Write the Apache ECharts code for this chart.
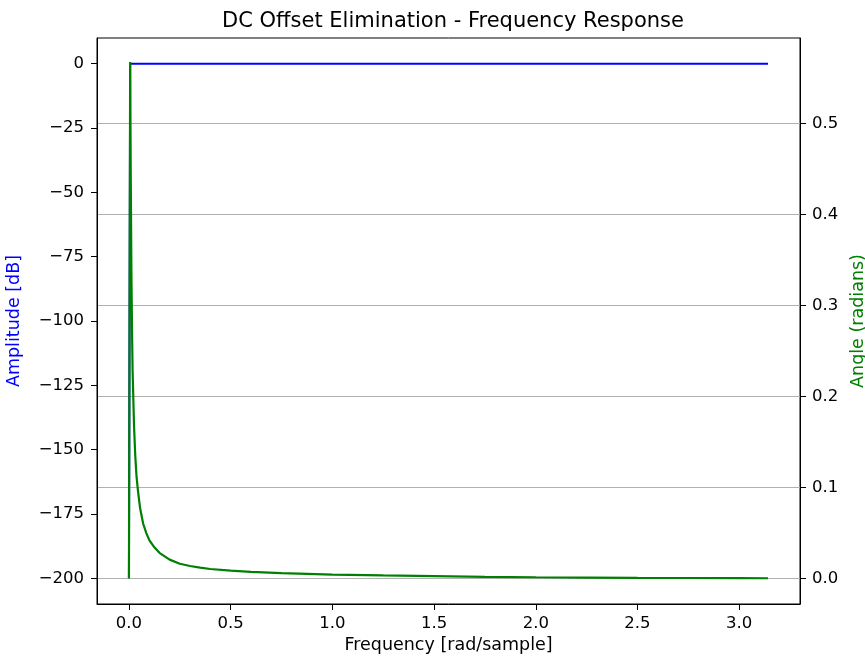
<!DOCTYPE html>
<html>
<head>
<meta charset="utf-8">
<script src="https://cdn.jsdelivr.net/npm/echarts@6/dist/echarts.min.js"></script>
<style>
  html, body { margin: 0; padding: 0; background: #fff; }
  #chart { width: 865px; height: 660px; }
</style>
</head>
<body>
<div id="chart"></div>
<script>
// amplitude (dB)
const ampFreq = [0, 0.006, 3.1416];
const ampDb = [-200, 0, 0];

// phase (radians)
const phaseFreq = [0, 0.006, 0.009, 0.012, 0.015, 0.018, 0.025, 0.031, 0.037, 0.044, 0.055, 0.07, 0.085, 0.1, 0.125, 0.15, 0.2, 0.25, 0.3, 0.35, 0.4, 0.5, 0.6, 0.75, 1.0, 1.25, 1.5, 1.75, 2.0, 2.25, 2.5, 2.75, 3.0, 3.1416];
const phaseRad = [0, 0.568, 0.44, 0.34, 0.275, 0.228, 0.168, 0.135, 0.113, 0.097, 0.077, 0.06, 0.05, 0.042, 0.034, 0.028, 0.0205, 0.016, 0.0135, 0.0117, 0.0102, 0.0084, 0.007, 0.0057, 0.0041, 0.0031, 0.0023, 0.0016, 0.0011, 0.0008, 0.0005, 0.0003, 0.0001, 0];

// tick labels
const freqTicks = [0, 0.5, 1.0, 1.5, 2.0, 2.5, 3.0];
const ampTicks = [0, -25, -50, -75, -100, -125, -150, -175, -200];
const angleTicks = [0, 0.1, 0.2, 0.3, 0.4, 0.5];

const font = 'DejaVu Sans';
const tickFont = 16.5;
const minus = v => (v < 0 ? '\u2212' + Math.abs(v) : String(v));

const chart = echarts.init(document.getElementById('chart'));

const option = {
  animation: false,
  title: {
    text: 'DC Offset Elimination - Frequency Response',
    left: 448, top: 6, textAlign: 'center',
    textStyle: { fontFamily: font, fontSize: 21, fontWeight: 'normal', color: '#000' }
  },
  grid: {
    left: 97, right: 65, top: 38, bottom: 56,
    show: true, borderColor: '#000', borderWidth: 1,
    outerBoundsMode: 'none'
  },
  xAxis: {
    type: 'value', min: -0.157, max: 3.299,
    name: 'Frequency [rad/sample]', nameLocation: 'middle', nameGap: 27,
    nameTextStyle: { fontFamily: font, fontSize: 17.5, color: '#000' },
    axisLine: { show: true, onZero: false, lineStyle: { color: '#000' } },
    axisTick: { show: true, length: 6, customValues: freqTicks, lineStyle: { color: '#000' } },
    axisLabel: { customValues: freqTicks, formatter: v => v.toFixed(1), margin: 11,
      fontFamily: font, fontSize: tickFont, color: '#000' },
    splitLine: { show: false }
  },
  yAxis: [
    {
      type: 'value', min: -210, max: 10, position: 'left',
      name: 'Amplitude [dB]', nameLocation: 'middle', nameRotate: 90, nameGap: 74,
      nameTextStyle: { fontFamily: font, fontSize: 17.5, color: '#0000ff' },
      axisLine: { show: true, onZero: false, lineStyle: { color: '#000' } },
      axisTick: { show: true, length: 6, customValues: ampTicks, lineStyle: { color: '#000' } },
      axisLabel: { customValues: ampTicks, formatter: minus, margin: 13,
        fontFamily: font, fontSize: tickFont, color: '#000' },
      splitLine: { show: false }
    },
    {
      type: 'value', min: -0.0283, max: 0.5943, position: 'right',
      name: 'Angle (radians)', nameLocation: 'middle', nameRotate: 90, nameGap: 48,
      nameTextStyle: { fontFamily: font, fontSize: 17.5, color: '#008000' },
      axisLine: { show: true, onZero: false, lineStyle: { color: '#000' } },
      axisTick: { show: true, length: 6, customValues: angleTicks, lineStyle: { color: '#000' } },
      axisLabel: { customValues: angleTicks, formatter: v => v.toFixed(1), margin: 12,
        fontFamily: font, fontSize: tickFont, color: '#000' },
      splitLine: { show: true, lineStyle: { color: '#b0b0b0', width: 1.1 } }
    }
  ],
  series: [
    {
      name: 'Amplitude', type: 'line', yAxisIndex: 0, showSymbol: false,
      lineStyle: { color: '#0000ff', width: 2 },
      data: ampFreq.map((f, i) => [f, ampDb[i]])
    },
    {
      name: 'Angle', type: 'line', yAxisIndex: 1, showSymbol: false,
      lineStyle: { color: '#008000', width: 2.2 },
      data: phaseFreq.map((f, i) => [f, phaseRad[i]])
    }
  ]
};

chart.setOption(option);
</script>
</body>
</html>
